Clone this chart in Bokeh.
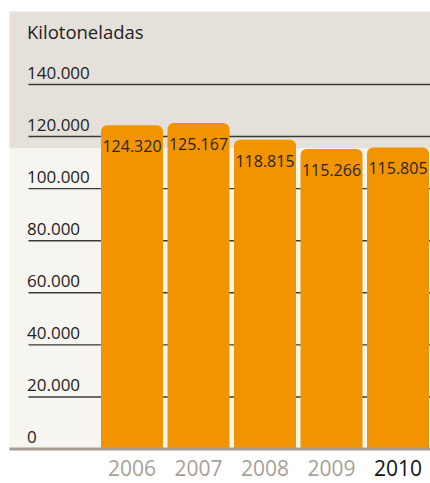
from bokeh.plotting import figure
from bokeh.models import Range1d
from bokeh.core.properties import value
from bokeh.embed import file_html
from bokeh.resources import INLINE

# ---- data ----
years = [2006, 2007, 2008, 2009, 2010]
year_labels = ["2006", "2007", "2008", "2009", "2010"]
kilotons = [124320, 125167, 118815, 115266, 115805]
value_labels = ["124.320", "125.167", "118.815", "115.266", "115.805"]
tick_values = [0, 20000, 40000, 60000, 80000, 100000, 120000, 140000]
tick_labels = ["0", "20.000", "40.000", "60.000", "80.000", "100.000", "120.000", "140.000"]
unit_label = "Kilotoneladas"
highlight_year = 2010

# ---- geometry (pixels -> data) ----
W, H = 430, 483
PX_Y = 364.5 / 140000.0      # pixels per kiloton unit
Y0 = 448.5                   # pixel row of value 0
PITCH = 66.5                 # pixels per year
X0 = 131.5                   # pixel column of first year

def ydat(py):
    return (Y0 - py) / PX_Y

def xdat(px):
    return years[0] + (px - X0) / PITCH

p = figure(width=W, height=H, output_backend="svg", toolbar_location=None,
           x_axis_type=None, y_axis_type=None,
           x_range=Range1d(xdat(0), xdat(W)), y_range=Range1d(ydat(H), ydat(0)),
           min_border=0, min_border_left=0, min_border_right=0,
           min_border_top=0, min_border_bottom=0)
p.outline_line_color = None
p.background_fill_color = "white"
p.border_fill_color = "white"

# panels
p.quad(left=xdat(9), right=xdat(W + 2), top=ydat(11), bottom=ydat(148),
       fill_color="#e5e1da", line_color=None)
p.quad(left=xdat(9), right=xdat(W + 2), top=ydat(148), bottom=0,
       fill_color="#f6f5f0", line_color=None)

# grid lines
grid_vals = [t for t in tick_values if t > 0]
p.segment(x0=[xdat(28)] * len(grid_vals), y0=grid_vals,
          x1=[xdat(W + 2)] * len(grid_vals), y1=grid_vals,
          line_color="#3c3a38", line_width=1.4)

# tick labels
p.text(x=[xdat(26.5)] * len(tick_values), y=tick_values, text=tick_labels,
       text_font=value("Open Sans"), text_font_size="17px", text_color="#222222",
       text_align="left", text_baseline="bottom", y_offset=-6)

# unit label
p.text(x=[xdat(26.5)], y=[ydat(31)], text=[unit_label],
       text_font=value("Open Sans"), text_font_size="18.5px", text_color="#222222",
       text_align="left", text_baseline="middle")

# bars
p.vbar(x=years, top=kilotons, bottom=0, width=62 / PITCH,
       fill_color="#f29400", line_color=None, border_radius=(6, 6, 0, 0))

# value labels
p.text(x=years, y=kilotons, text=value_labels,
       text_font=value("Open Sans"), text_font_size="16px", text_color="#2a2520",
       text_align="center", text_baseline="middle", y_offset=21)

# baseline
p.segment(x0=[xdat(9)], y0=[0], x1=[xdat(W + 2)], y1=[0],
          line_color="#a69d92", line_width=3)

# year labels
year_colors = ["#111111" if y == highlight_year else "#a9a097" for y in years]
p.text(x=years, y=[0] * len(years), text=year_labels,
       text_font=value("Open Sans"), text_font_size="21px", text_color=year_colors,
       text_align="center", text_baseline="middle", y_offset=19)

open("out.html", "w").write(file_html(p, INLINE))
